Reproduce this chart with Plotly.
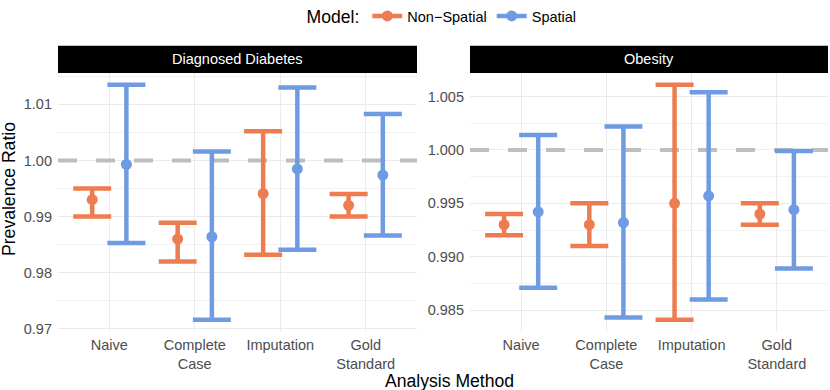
import plotly.graph_objects as go

methods = ["Naive", "Complete<br>Case", "Imputation", "Gold<br>Standard"]
panels = ["Diagnosed Diabetes", "Obesity"]
models = ["Non\u2212Spatial", "Spatial"]
reference_ratio = 1.0

diab_ns_est = [0.9930, 0.9860, 0.9941, 0.9920]
diab_ns_lo = [0.9900, 0.9820, 0.9832, 0.9900]
diab_ns_hi = [0.9950, 0.9889, 1.0052, 0.9940]
diab_s_est = [0.9993, 0.9864, 0.9985, 0.9974]
diab_s_lo = [0.9853, 0.9716, 0.9841, 0.9866]
diab_s_hi = [1.0135, 1.0016, 1.0130, 1.0083]

ob_ns_est = [0.9930, 0.9930, 0.9950, 0.9940]
ob_ns_lo = [0.9920, 0.9910, 0.9841, 0.9930]
ob_ns_hi = [0.9940, 0.9950, 1.0061, 0.9950]
ob_s_est = [0.9942, 0.9932, 0.9957, 0.9944]
ob_s_lo = [0.9871, 0.9843, 0.9860, 0.9889]
ob_s_hi = [1.0014, 1.0022, 1.0054, 0.9999]

colors = {"Non\u2212Spatial": "#ED7D50", "Spatial": "#6F9BE2"}
dodge = {"Non\u2212Spatial": -0.2, "Spatial": 0.2}

data = {
    "Diagnosed Diabetes": {
        "Non\u2212Spatial": (diab_ns_est, diab_ns_lo, diab_ns_hi),
        "Spatial": (diab_s_est, diab_s_lo, diab_s_hi),
    },
    "Obesity": {
        "Non\u2212Spatial": (ob_ns_est, ob_ns_lo, ob_ns_hi),
        "Spatial": (ob_s_est, ob_s_lo, ob_s_hi),
    },
}

W, H = 830, 390
xdoms = [[58 / W, 417 / W], [470 / W, 828 / W]]
ydom = [(H - 331.5) / H, (H - 73) / H]
strip_top = (H - 45.7) / H
XR = [0.4, 4.6]

FONT = "Liberation Sans, Arial, sans-serif"
TICK = 14.5
TITLE = 17.6
fig = go.Figure()

for pi, panel in enumerate(panels):
    ax = "" if pi == 0 else str(pi + 1)
    # reference line at 1, drawn first so it sits beneath the intervals
    fig.add_trace(go.Scatter(
        x=XR, y=[reference_ratio, reference_ratio], mode="lines",
        line=dict(color="#BEBEBE", width=4, dash="19px,19px"),
        xaxis="x" + ax, yaxis="y" + ax, showlegend=False, hoverinfo="skip",
    ))
    allv = []
    for model in models:
        est, lo, hi = data[panel][model]
        allv += lo + hi
        xs = [i + 1 + dodge[model] for i in range(len(methods))]
        fig.add_trace(go.Scatter(
            x=xs, y=est, mode="markers",
            marker=dict(color=colors[model], size=11),
            error_y=dict(type="data", symmetric=False,
                         array=[h - e for h, e in zip(hi, est)],
                         arrayminus=[e - l for e, l in zip(est, lo)],
                         color=colors[model], thickness=4.5, width=19),
            xaxis="x" + ax, yaxis="y" + ax, showlegend=False,
        ))
    lo_v, hi_v = min(allv), max(allv)
    pad = (hi_v - lo_v) * 0.05
    if pi == 0:
        tv = [0.97, 0.98, 0.99, 1.00, 1.01]
        fmt = ".2f"
        minor_d = 0.005
    else:
        tv = [0.985, 0.990, 0.995, 1.000, 1.005]
        fmt = ".3f"
        minor_d = 0.0025
    fig.update_layout(**{
        "xaxis" + ax: dict(domain=xdoms[pi], range=XR,
                           tickvals=[1, 2, 3, 4], ticktext=methods,
                           showgrid=True, gridcolor="#EBEBEB", gridwidth=1,
                           zeroline=False, showline=False, ticks="",
                           ticklabelstandoff=3,
                           tickfont=dict(size=TICK, color="#4D4D4D", family=FONT),
                           anchor="y" + ax, automargin=False, fixedrange=True),
        "yaxis" + ax: dict(domain=ydom, range=[lo_v - pad, hi_v + pad],
                           tickvals=tv, tickformat=fmt,
                           showgrid=True, gridcolor="#EBEBEB", gridwidth=1,
                           minor=dict(dtick=minor_d, tick0=tv[0], showgrid=True,
                                      gridcolor="#F2F2F2", gridwidth=0.6),
                           zeroline=False, showline=False, ticks="",
                           ticklabelstandoff=5,
                           tickfont=dict(size=TICK, color="#4D4D4D", family=FONT),
                           anchor="x" + ax, automargin=False, fixedrange=True),
    })
    # strip
    fig.add_shape(type="rect", xref="paper", yref="paper",
                  x0=xdoms[pi][0], x1=xdoms[pi][1], y0=ydom[1], y1=strip_top,
                  fillcolor="black", line=dict(width=0))
    fig.add_annotation(text=panel, xref="paper", yref="paper",
                       x=(xdoms[pi][0] + xdoms[pi][1]) / 2, y=(ydom[1] + strip_top) / 2,
                       xanchor="center", yanchor="middle",
                       showarrow=False, font=dict(size=TICK, color="white", family=FONT))

# legend-only traces
for model in models:
    fig.add_trace(go.Scatter(x=[None], y=[None], mode="lines+markers", name=model,
                             line=dict(color=colors[model], width=4.5),
                             marker=dict(color=colors[model], size=11),
                             xaxis="x", yaxis="y", showlegend=True))

fig.add_annotation(text="Prevalence Ratio", xref="paper", yref="paper",
                   x=9 / W, y=(H - 189) / H, textangle=-90,
                   xanchor="center", yanchor="middle",
                   showarrow=False, font=dict(size=TITLE, color="black", family=FONT))
fig.add_annotation(text="Analysis Method", xref="paper", yref="paper",
                   x=449 / W, y=(H - 381) / H, xanchor="center", yanchor="middle",
                   showarrow=False, font=dict(size=TITLE, color="black", family=FONT))

fig.update_layout(
    width=W, height=H,
    margin=dict(l=0, r=0, t=0, b=0, autoexpand=False),
    plot_bgcolor="white", paper_bgcolor="white",
    font=dict(family=FONT),
    legend=dict(orientation="h", x=443 / W, xanchor="center", y=1.0, yanchor="top",
                title=dict(text="Model:", font=dict(size=TITLE, color="black", family=FONT)),
                font=dict(size=TICK, color="black", family=FONT),
                itemwidth=30, tracegroupgap=0, bgcolor="rgba(0,0,0,0)"),
)

fig.write_html("out.html", config={"displayModeBar": False},
               post_script="document.body.style.margin='0';document.body.style.padding='0';")
